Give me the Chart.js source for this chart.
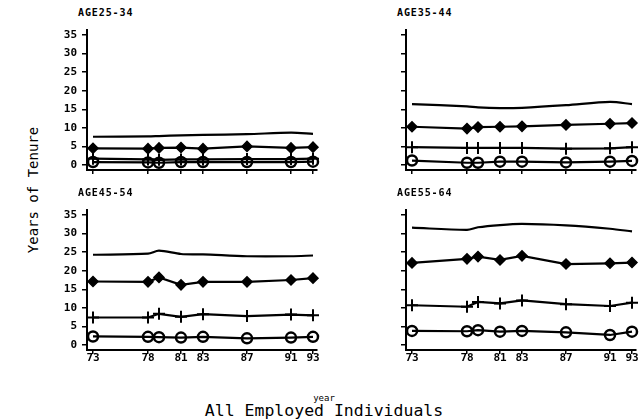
<!DOCTYPE html>
<html>
<head>
<meta charset="utf-8">
<script src="https://cdn.jsdelivr.net/npm/chart.js@4.4.0/dist/chart.umd.min.js"></script>
<style>
  body { margin: 0; background: #fff; }
  #wrap { position: relative; width: 640px; height: 420px; overflow: hidden; background: #fff; }
  #wrap canvas { position: absolute; }
  .ptitle { position: absolute; font: bold 10px "DejaVu Sans Mono", monospace; letter-spacing: 0.9px;
            color: #000; line-height: 10px; white-space: nowrap; }
  .axis-title { position: absolute; font-family: "DejaVu Sans Mono", monospace; color: #000; white-space: nowrap; }
</style>
</head>
<body>
<div id="wrap">
  <div class="axis-title" style="font-size:14px; left:33px; top:190px; transform:translate(-50%,-50%) rotate(-90deg);">Years of Tenure</div>
  <div class="axis-title" style="font-size:9px; left:324px; top:398px; transform:translate(-50%,-50%);">year</div>
  <div class="axis-title" style="font-size:16.5px; left:324px; top:410px; transform:translate(-50%,-50%);">All Employed Individuals</div>
</div>
<script>
// survey years on the x axis
const years = [73, 78, 79, 81, 83, 87, 91, 93];
const xTickYears = [73, 78, 81, 83, 87, 91, 93];
const yTicks = [0, 5, 10, 15, 20, 25, 30, 35];
const panelTitles = ['AGE25-34', 'AGE35-44', 'AGE45-54', 'AGE55-64'];

// age 25-34
const line25_34 = [7.6, 7.7, 7.8, 8.0, 8.1, 8.3, 8.7, 8.4];
const diam25_34 = [4.5, 4.4, 4.6, 4.7, 4.4, 5.0, 4.6, 4.8];
const plus25_34 = [1.7, 1.5, 1.4, 1.5, 1.5, 1.6, 1.6, 1.7];
const circ25_34 = [0.8, 0.7, 0.6, 0.8, 0.8, 0.8, 0.8, 0.9];

// age 35-44
const line35_44 = [16.4, 15.8, 15.5, 15.3, 15.4, 16.1, 17.0, 16.4];
const diam35_44 = [10.3, 9.8, 10.2, 10.3, 10.4, 10.8, 11.1, 11.3];
const plus35_44 = [4.8, 4.6, 4.6, 4.6, 4.6, 4.4, 4.5, 4.8];
const circ35_44 = [1.2, 0.6, 0.6, 0.9, 0.9, 0.7, 0.9, 1.1];

// age 45-54
const line45_54 = [24.3, 24.6, 25.4, 24.5, 24.4, 23.9, 23.9, 24.1];
const diam45_54 = [17.1, 17.0, 18.2, 16.2, 17.0, 17.0, 17.5, 18.0];
const plus45_54 = [7.4, 7.4, 8.4, 7.6, 8.3, 7.8, 8.2, 8.0];
const circ45_54 = [2.3, 2.2, 2.1, 2.0, 2.2, 1.8, 2.0, 2.2];

// age 55-64
const line55_64 = [31.6, 31.0, 31.7, 32.3, 32.6, 32.2, 31.3, 30.6];
const diam55_64 = [22.1, 23.2, 23.8, 22.9, 24.0, 21.8, 22.0, 22.2];
const plus55_64 = [10.7, 10.3, 11.6, 11.2, 12.0, 11.0, 10.5, 11.4];
const circ55_64 = [3.8, 3.7, 4.0, 3.6, 3.8, 3.4, 2.7, 3.6];

const panelSeries = [
    [line25_34, diam25_34, plus25_34, circ25_34],
    [line35_44, diam35_44, plus35_44, circ35_44],
    [line45_54, diam45_54, plus45_54, circ45_54],
    [line55_64, diam55_64, plus55_64, circ55_64]
];

// layout of each small panel (plot area in page pixels)
const PX_PER_YEAR = 11;
const PX_PER_UNIT = 130 / 35;
const AREA_W = 230, AREA_H = 140;
const X_MIN = 73 - 6 / PX_PER_YEAR;
const X_MAX = X_MIN + AREA_W / PX_PER_YEAR;
const Y_MIN = -5 / PX_PER_UNIT;
const Y_MAX = Y_MIN + AREA_H / PX_PER_UNIT;
const Y_AXIS_W = 47, X_AXIS_H = 22, PAD_TOP = 12, PAD_RIGHT = 10;

const panels = [
    { left: 87, top: 30, yLabels: true, xLabels: false },
    { left: 406, top: 30, yLabels: false, xLabels: false },
    { left: 87, top: 210, yLabels: true, xLabels: true },
    { left: 406, top: 210, yLabels: false, xLabels: true }
];

const tickFont = { family: '"DejaVu Sans Mono", monospace', size: 11, weight: 'bold' };

function toPoints(values) {
    return years.map((yr, i) => ({ x: yr, y: values[i] }));
}

function makePanel(idx) {
    const p = panels[idx];
    const wrap = document.getElementById('wrap');

    const title = document.createElement('div');
    title.className = 'ptitle';
    title.textContent = panelTitles[idx];
    title.style.left = (p.left - 9) + 'px';
    title.style.top = (p.top - 22) + 'px';
    wrap.appendChild(title);

    const canvas = document.createElement('canvas');
    const w = Y_AXIS_W + AREA_W + PAD_RIGHT;
    const h = PAD_TOP + AREA_H + X_AXIS_H;
    canvas.width = w;
    canvas.height = h;
    canvas.style.width = w + 'px';
    canvas.style.height = h + 'px';
    canvas.style.left = (p.left - Y_AXIS_W) + 'px';
    canvas.style.top = (p.top - PAD_TOP) + 'px';
    wrap.appendChild(canvas);

    const [line, diam, plus, circ] = panelSeries[idx];

    new Chart(canvas, {
        type: 'line',
        data: {
            datasets: [
                { data: toPoints(line), borderColor: '#000', borderWidth: 2.2, pointRadius: 0, tension: 0.3, clip: false },
                { data: toPoints(diam), borderColor: '#000', borderWidth: 2.2, tension: 0, clip: false,
                  pointStyle: 'rectRot', pointRadius: 5, pointBackgroundColor: '#000', pointBorderColor: '#000', pointBorderWidth: 1.5 },
                { data: toPoints(plus), borderColor: '#000', borderWidth: 2.2, tension: 0, clip: false,
                  pointStyle: 'cross', pointRadius: 6, pointBorderColor: '#000', pointBorderWidth: 2 },
                { data: toPoints(circ), borderColor: '#000', borderWidth: 2.2, tension: 0, clip: false,
                  pointStyle: 'circle', pointRadius: 5, pointBackgroundColor: 'rgba(0,0,0,0)', pointBorderColor: '#000', pointBorderWidth: 2.5 }
            ]
        },
        options: {
            responsive: false,
            animation: false,
            layout: { padding: { top: PAD_TOP, right: PAD_RIGHT, left: 0, bottom: 0 } },
            plugins: { legend: { display: false }, tooltip: { enabled: false }, title: { display: false } },
            scales: {
                x: {
                    type: 'linear',
                    min: X_MIN,
                    max: X_MAX,
                    afterBuildTicks: sc => { sc.ticks = xTickYears.map(v => ({ value: v })); },
                    afterFit: sc => { sc.height = X_AXIS_H; },
                    grid: { display: true, drawOnChartArea: false, drawTicks: true, tickLength: 4, color: '#000', lineWidth: 1.5 },
                    border: { display: true, color: '#000', width: 2 },
                    ticks: { display: p.xLabels, autoSkip: false, maxRotation: 0, padding: -2, color: '#000', font: tickFont,
                             callback: v => String(v) }
                },
                y: {
                    type: 'linear',
                    min: Y_MIN,
                    max: Y_MAX,
                    afterBuildTicks: sc => { sc.ticks = yTicks.map(v => ({ value: v })); },
                    afterFit: sc => { sc.width = Y_AXIS_W; },
                    grid: { display: true, drawOnChartArea: false, drawTicks: true, tickLength: 5, color: '#000', lineWidth: 1.5 },
                    border: { display: true, color: '#000', width: 2 },
                    ticks: { display: p.yLabels, padding: 5, color: '#000', font: tickFont, callback: v => String(v) }
                }
            }
        }
    });
}

panels.forEach((p, i) => makePanel(i));
</script>
</body>
</html>
